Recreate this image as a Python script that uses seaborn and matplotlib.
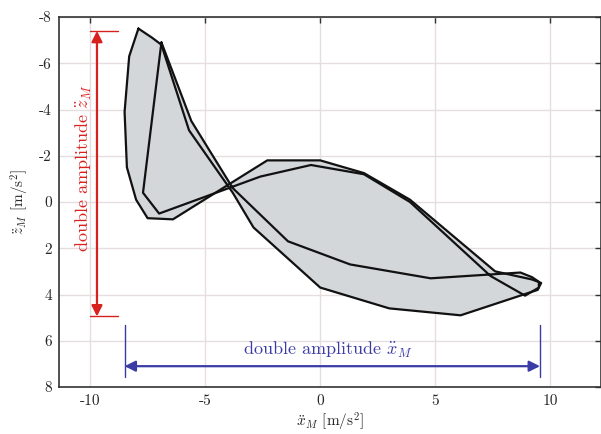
import matplotlib
matplotlib.use("Agg")
import matplotlib.pyplot as plt
import seaborn as sns
import pandas as pd

# first cycle: outer left flank, upper branch, lower return branch
cycle1_x = [-7.9, -8.3, -8.5, -8.4, -8.0, -7.5, -6.4, -2.3, 0.0, 1.9, 3.9, 7.6, 9.2, 9.6,
            9.45, 6.1, 3.0, 0.0, -2.9, -3.8, -5.7, -6.9, -7.3, -7.9]
cycle1_z = [-7.5, -6.3, -3.9, -1.5, -0.1, 0.7, 0.75, -1.8, -1.8, -1.25, -0.1, 3.0, 3.35, 3.5,
            3.8, 4.9, 4.6, 3.7, 1.1, -0.4, -3.1, -6.8, -7.1, -7.5]

# second cycle: inner flank, inner upper branch, middle return branch
cycle2_x = [-6.9, -7.7, -7.0, -2.6, -0.4, 1.9, 3.9, 7.4, 8.9, 9.5, 9.5, 9.2, 8.7, 4.8,
            1.3, -1.4, -3.8, -5.6, -6.9]
cycle2_z = [-6.9, -0.4, 0.5, -1.1, -1.6, -1.2, 0.0, 3.2, 4.05, 3.7, 3.45, 3.25, 3.05, 3.3,
            2.7, 1.7, -0.6, -3.5, -6.9]

# double amplitude markers
z_amp = (-7.4, 4.95)
z_amp_x = -9.7
x_amp = (-8.5, 9.55)
x_amp_z = 7.1

sns.set_style("whitegrid")
plt.rcParams['font.family'] = ['cmr10', 'DejaVu Serif']
plt.rcParams['mathtext.fontset'] = 'cm'
plt.rcParams['axes.unicode_minus'] = False
plt.rcParams['axes.formatter.use_mathtext'] = False

fig = plt.figure(figsize=(6.01, 4.34), dpi=100)
ax = fig.add_axes([59 / 601, 1 - 387 / 434, 1 - 59 / 601, (387 - 17) / 434])

fill_color = '#d4d7da'
for cx, cz in [(cycle1_x, cycle1_z), (cycle2_x, cycle2_z)]:
    ax.fill(cx, cz, color=fill_color, lw=0, zorder=2)
for cx, cz in [(cycle1_x, cycle1_z), (cycle2_x, cycle2_z)]:
    df = pd.DataFrame({'x': cx, 'z': cz})
    sns.lineplot(data=df, x='x', y='z', sort=False, estimator=None, color='#111111',
                 lw=1.6, ax=ax, zorder=3)

red = '#d8201e'
blue = '#3b3ba6'

# vertical (z) double amplitude
ax.annotate('', xy=(z_amp_x, z_amp[0]), xytext=(z_amp_x, z_amp[1]),
            arrowprops=dict(arrowstyle='<|-|>', color=red, lw=1.6, mutation_scale=16,
                            shrinkA=0, shrinkB=0), zorder=4)
for zz in z_amp:
    ax.plot([-10.0, -8.8], [zz, zz], color=red, lw=1.0, zorder=4)
ax.text(-10.25, -1.45, r'double amplitude $\ddot{z}_M$', color=red,
        rotation=90, ha='center', va='center', fontsize=13)

# horizontal (x) double amplitude
ax.annotate('', xy=(x_amp[0], x_amp_z), xytext=(x_amp[1], x_amp_z),
            arrowprops=dict(arrowstyle='<|-|>', color=blue, lw=1.6, mutation_scale=16,
                            shrinkA=0, shrinkB=0), zorder=4)
for xx in x_amp:
    ax.plot([xx, xx], [5.3, 7.55], color=blue, lw=1.0, zorder=4)
ax.text(0.35, 6.4, r'double amplitude $\ddot{x}_M$', color=blue, ha='center', va='center',
        fontsize=13)

ax.set_xlim(-11.35, 12.2)
ax.set_ylim(8, -8)
ax.set_xticks([-10, -5, 0, 5, 10])
ax.set_yticks([-8, -6, -4, -2, 0, 2, 4, 6, 8])
ax.set_xlabel(r'$\ddot{x}_M$ [m/s$^2$]', fontsize=11, labelpad=2)
ax.set_ylabel(r'$\ddot{z}_M$ [m/s$^2$]', fontsize=11, labelpad=6)
ax.tick_params(direction='in', top=True, right=True, length=4, width=1, labelsize=11,
               color='#333333', pad=5)
ax.grid(True, color='#e6dede', lw=1)
for s in ax.spines.values():
    s.set_color('#333333')
    s.set_linewidth(1.2)

fig.savefig('out.png', dpi=100)
